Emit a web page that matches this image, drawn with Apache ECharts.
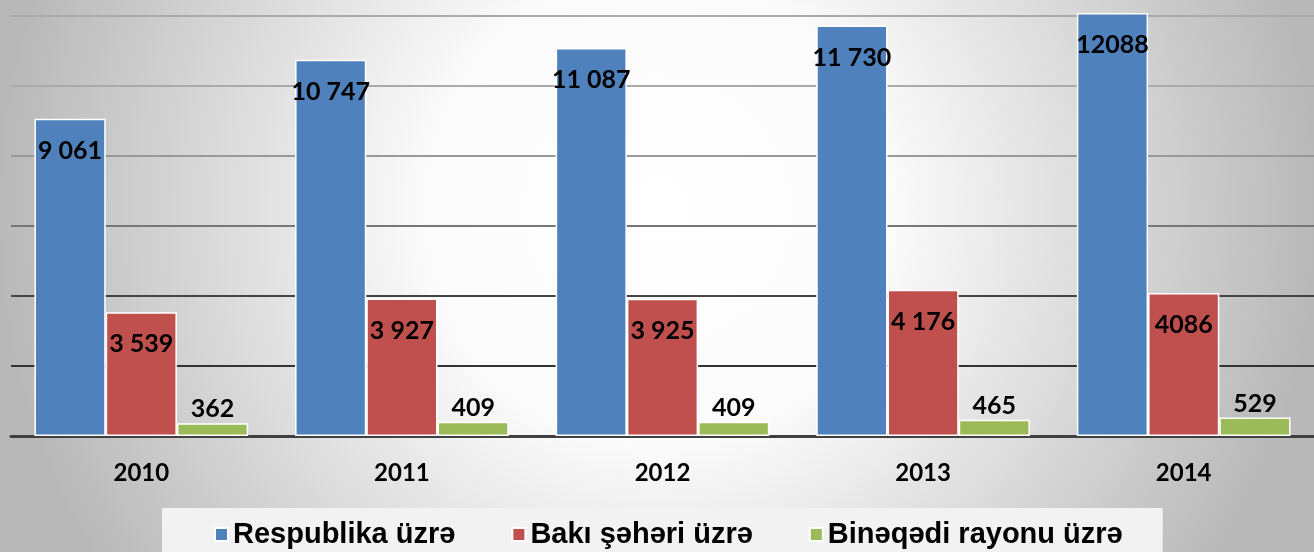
<!DOCTYPE html>
<html>
<head>
<meta charset="utf-8">
<script src="https://cdn.jsdelivr.net/npm/echarts@6/dist/echarts.min.js"></script>
<style>
  html, body { margin: 0; padding: 0; }
  #chart { width: 1314px; height: 552px; }
</style>
</head>
<body>
<div id="chart"></div>
<script>
const years = ['2010', '2011', '2012', '2013', '2014']
const seriesNames = ['Respublika üzrə', 'Bakı şəhəri üzrə', 'Binəqədi rayonu üzrə']
const respublika = [9061, 10747, 11087, 11730, 12088]
const baki = [3539, 3927, 3925, 4176, 4086]
const bineqedi = [362, 409, 409, 465, 529]
// labels as printed on the original (thousands separators are inconsistent)
const respublikaLabels = ['9 061', '10 747', '11 087', '11 730', '12088']
const bakiLabels = ['3 539', '3 927', '3 925', '4 176', '4086']
const bineqediLabels = ['362', '409', '409', '465', '529']

const colors = ['#4f81bd', '#c0504d', '#9bbb59']
const labelFont = {
  fontFamily: 'Lato',
  fontWeight: 'bold',
  fontSize: 25,
  lineHeight: 26,
  color: '#000'
}

const chart = echarts.init(document.getElementById('chart'))

const makeSeries = (name, values, labels, color, inside) => ({
  name,
  type: 'bar',
  data: values,
  barGap: '0%',
  barCategoryGap: '18%',
  itemStyle: { color, borderColor: '#fff', borderWidth: 1.5 },
  label: {
    show: true,
    position: inside ? 'insideTop' : 'top',
    distance: inside ? 19 : 1,
    formatter: (p) => labels[p.dataIndex],
    ...labelFont
  }
})

chart.setOption({
  backgroundColor: {
    type: 'radial',
    x: 0.5,
    y: 0.38,
    r: 1.2,
    colorStops: [
      { offset: 0, color: '#ffffff' },
      { offset: 0.35, color: '#fbfbfb' },
      { offset: 1, color: '#b8b8b8' }
    ]
  },
  animation: false,
  grid: { left: 11, right: 0, top: 2, bottom: 116 },
  legend: {
    data: seriesNames,
    left: 162,
    top: 508,
    padding: [12, 40, 16, 52],
    backgroundColor: '#f2f2f2',
    icon: 'rect',
    itemWidth: 13,
    itemHeight: 13,
    itemGap: 56,
    textStyle: {
      fontFamily: 'Liberation Sans',
      fontWeight: 'bold',
      fontSize: 29,
      color: '#000'
    }
  },
  xAxis: {
    type: 'category',
    data: years,
    axisLine: { lineStyle: { color: '#404040', width: 3 } },
    axisTick: { show: false },
    axisLabel: {
      margin: 25,
      fontFamily: 'Lato',
      fontWeight: 'bold',
      fontSize: 24,
      color: '#000'
    }
  },
  yAxis: {
    type: 'value',
    min: 0,
    max: 12400,
    interval: 2000,
    axisLabel: { show: false },
    axisLine: { show: false },
    axisTick: { show: false },
    splitLine: {
      showMaxLine: false,
      lineStyle: {
        width: 2,
        color: ['#333', '#333', '#444', '#777', '#999', '#aaa', '#aaa', '#aaa']
      }
    }
  },
  series: [
    makeSeries(seriesNames[0], respublika, respublikaLabels, colors[0], true),
    makeSeries(seriesNames[1], baki, bakiLabels, colors[1], true),
    makeSeries(seriesNames[2], bineqedi, bineqediLabels, colors[2], false)
  ]
})
</script>
</body>
</html>
